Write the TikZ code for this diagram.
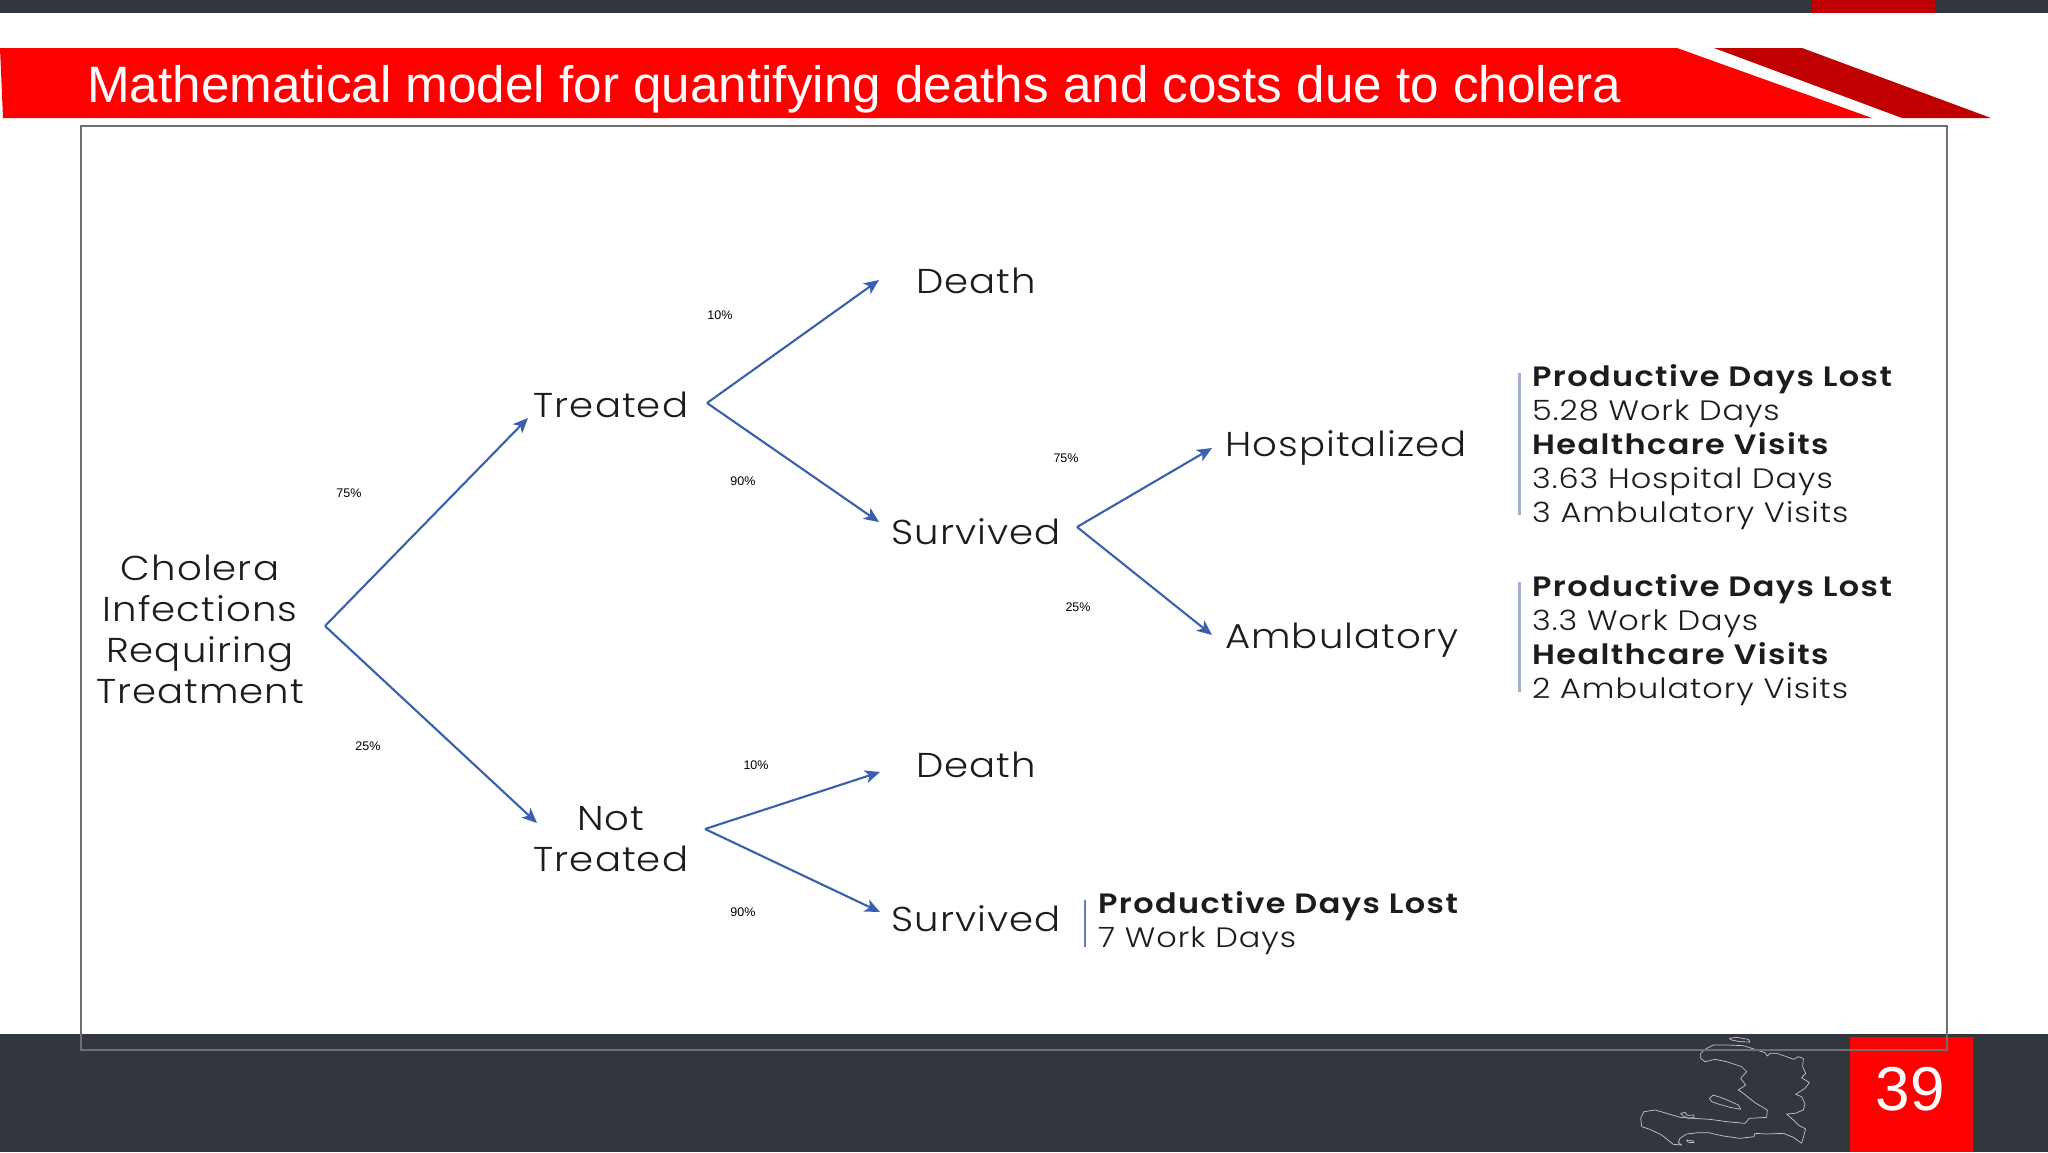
\documentclass[tikz,border=0pt]{standalone}
\usepackage{fontspec}
\setmainfont{Liberation Sans}
\newfontfamily\treefont[UprightFont=* Light,BoldFont=* SemiBold,FakeStretch=1.12,LetterSpace=3]{Poppins}
\newfontfamily\detailfont[UprightFont=* Light,BoldFont=* SemiBold,FakeStretch=1.14,UprightFeatures={LetterSpace=3.5},BoldFeatures={LetterSpace=5}]{Poppins}
\usetikzlibrary{arrows.meta}
\definecolor{slate}{HTML}{31363F}
\definecolor{titlered}{HTML}{FF0000}
\definecolor{darkred}{HTML}{C00000}
\definecolor{branch}{HTML}{3A5FAE}
\definecolor{barblue}{HTML}{A3B0D4}
\definecolor{ink}{HTML}{1C1C1C}
\definecolor{frameline}{HTML}{6F6F6F}
\tikzset{
  branch/.style={draw=branch,line width=2.1pt,line join=miter,-{Stealth[length=15pt,width=13pt,inset=4pt]}},
  leaf/.style={font=\treefont\fontsize{34.5}{41}\selectfont,text=ink,align=center,inner sep=0pt},
  detail/.style={font=\detailfont\fontsize{28}{34}\selectfont,text=ink,align=left,inner sep=0pt,anchor=north west},
  pct/.style={font=\fontsize{12.5}{14}\selectfont,text=black,inner sep=0pt},
  sidebar/.style={draw=barblue,line width=3pt},
  mapline/.style={draw=white!72!slate,line width=0.7pt,line join=round},
}
\begin{document}
\begin{tikzpicture}[x=1pt,y=-1pt]
\useasboundingbox (0,0) rectangle (2048,1152);
\fill[white] (0,0) rectangle (2048,1152);
% top band
\fill[slate] (0,0) rectangle (2048,13);
\fill[darkred] (1811,0) rectangle (1935,13);
% title banner
\fill[titlered] (0,48) -- (1677,48) -- (1872,118) -- (3,118) -- cycle;
\fill[darkred] (1714,48) -- (1802,48) -- (1991,118) -- (1902,118) -- cycle;
\node[anchor=base west,inner sep=0pt,text=white,font=\fontsize{51.2}{60}\selectfont] (title) at (87,102) {Mathematical model for quantifying deaths and costs due to cholera};
% bottom band
\fill[slate] (0,1034) rectangle (2048,1152);
\fill[titlered] (1850,1037) rectangle (1973,1152);
\node[anchor=base,inner sep=0pt,text=white,font=\fontsize{62}{70}\selectfont] (page) at (1910,1110) {39};
% map
\begin{scope}[shift={(1630,1030)},x=0.3333pt,y=-0.3333pt]
\draw[mapline] (212,70)--(225,58)--(250,45)--(290,45)--(340,47)--(375,58)--(405,68)--(412,78)--(420,70)--(440,70)--(470,80)--(490,88)--(505,80)--(520,85)--(518,110)--(527,130)--(515,143)--(538,158)--(525,175)--(497,193)--(515,200)--(525,222)--(520,240)--(495,250)--(470,252)--(490,270)--(505,285)--(527,297)--(515,340)--(490,322)--(460,310)--(410,312)--(375,310)--(372,320)--(330,325)--(280,318)--(235,308)--(205,308)--(170,312)--(150,325)--(145,338)--(155,345)--(130,343)--(95,315)--(60,298)--(35,290)--(32,265)--(42,245)--(75,240)--(110,250)--(150,262)--(190,265)--(240,268)--(290,275)--(345,280)--(358,265)--(410,262)--(412,240)--(375,218)--(340,190)--(325,180)--(347,165)--(332,145)--(350,125)--(335,110)--(290,95)--(255,88)--(225,95)--(212,85)--cycle;
\draw[mapline] (238,205)--(250,195)--(280,205)--(325,225)--(332,238)--(300,232)--(265,222)--(245,215)--cycle;
\draw[mapline] (298,25)--(320,22)--(355,28)--(360,36)--(330,35)--(305,30)--cycle;
\draw[mapline] (152,250)--(165,247)--(172,256)--(192,255)--(192,262)--(175,265)--(160,258)--cycle;
\draw[mapline] (170,330)--(190,333)--(192,338)--(175,337)--cycle;
\end{scope}
% frame
\draw[frameline,line width=2.6pt] (81,126) rectangle (1947,1050);
% tree nodes
\node[leaf] (root) at (200,629) {Cholera\\Infections\\Requiring\\Treatment};
\node[leaf] (treated) at (611,405) {Treated};
\node[leaf] (nottreated) at (611,839) {Not\\Treated};
\node[leaf] (deathA) at (976,281) {Death};
\node[leaf] (survivedA) at (976,532) {Survived};
\node[leaf] (deathB) at (976,765) {Death};
\node[leaf] (survivedB) at (976,919) {Survived};
\node[leaf,anchor=west] (hosp) at (1225,448) {Hospitalized};
\node[leaf,anchor=west] (amb) at (1225,640) {Ambulatory};
% connectors
\draw[branch] ([shift={(125,-3)}]root.center) -- ([shift={(-83,13)}]treated.center);
\draw[branch] ([shift={(125,-3)}]root.center) -- ([shift={(-74,-16)}]nottreated.center);
\draw[branch] ([shift={(96,-2)}]treated.center) -- ([shift={(-97,-1)}]deathA.center);
\draw[branch] ([shift={(96,-2)}]treated.center) -- ([shift={(-97,-10)}]survivedA.center);
\draw[branch] ([shift={(101,-5)}]survivedA.center) -- ([shift={(-13,0)}]hosp.west);
\draw[branch] ([shift={(101,-5)}]survivedA.center) -- ([shift={(-13,-5)}]amb.west);
\draw[branch] ([shift={(94,-10)}]nottreated.center) -- ([shift={(-96,7)}]deathB.center);
\draw[branch] ([shift={(94,-10)}]nottreated.center) -- ([shift={(-96,-7)}]survivedB.center);
% percent labels
\node[pct] (p1) at (349,493) {75\%};
\node[pct] (p2) at (368,746) {25\%};
\node[pct] (p3) at (720,315) {10\%};
\node[pct] (p4) at (743,481) {90\%};
\node[pct] (p5) at (1066,458) {75\%};
\node[pct] (p6) at (1078,607) {25\%};
\node[pct] (p7) at (756,765) {10\%};
\node[pct] (p8) at (743,912) {90\%};
% detail blocks
\draw[sidebar] (1519,373) -- (1519,515);
\draw[sidebar] (1519,582) -- (1519,692);
\draw[sidebar,draw=branch!80!white,line width=2pt] (1085,900) -- (1085,947);
\node[detail] (d1) at (1532,364) {\textbf{Productive Days Lost}\\5.28 Work Days\\\textbf{Healthcare Visits}\\3.63 Hospital Days\\3 Ambulatory Visits};
\node[detail] (d2) at (1532,574) {\textbf{Productive Days Lost}\\3.3 Work Days\\\textbf{Healthcare Visits}\\2 Ambulatory Visits};
\node[detail] (d3) at (1098,891) {\textbf{Productive Days Lost}\\7 Work Days};
\end{tikzpicture}
\end{document}
